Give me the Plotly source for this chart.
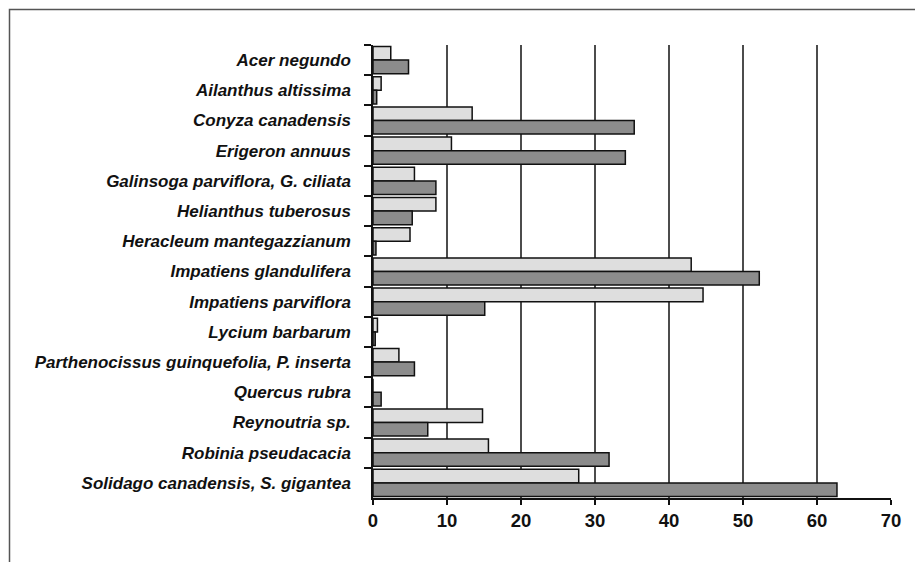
import plotly.graph_objects as go

species = [
    "Acer negundo",
    "Ailanthus altissima",
    "Conyza canadensis",
    "Erigeron annuus",
    "Galinsoga parviflora, G. ciliata",
    "Helianthus tuberosus",
    "Heracleum mantegazzianum",
    "Impatiens glandulifera",
    "Impatiens parviflora",
    "Lycium barbarum",
    "Parthenocissus guinquefolia, P. inserta",
    "Quercus rubra",
    "Reynoutria sp.",
    "Robinia pseudacacia",
    "Solidago canadensis, S. gigantea",
]
light_values = [2.4, 1.1, 13.4, 10.6, 5.6, 8.5, 5.0, 43.0, 44.6, 0.6, 3.5, 0.0, 14.8, 15.6, 27.8]
dark_values = [4.8, 0.5, 35.3, 34.1, 8.5, 5.3, 0.4, 52.2, 15.1, 0.3, 5.6, 1.1, 7.4, 31.9, 62.7]
x_ticks = [0, 10, 20, 30, 40, 50, 60, 70]
grid_values = [10, 20, 30, 40, 50, 60]

OFF = 8  # default page body margin
W, H = 923, 562
L, R, T, B = 373 - OFF, 32 + OFF, 45 - OFF, 64 + OFF
pw = W - L - R
ph = H - T - B

fig = go.Figure()
fig.add_trace(go.Bar(
    y=species, x=light_values, orientation="h", name="light",
    marker=dict(color="#dedede", line=dict(color="#111111", width=1.5)),
))
fig.add_trace(go.Bar(
    y=species, x=dark_values, orientation="h", name="dark",
    marker=dict(color="#8c8c8c", line=dict(color="#111111", width=1.5)),
))

for g in grid_values:
    fig.add_shape(type="line", xref="x", yref="paper", x0=g, x1=g, y0=0, y1=1,
                  line=dict(color="#111111", width=1.5), layer="below")

# outer frame (page pixel positions converted to paper units)
def px_to_paper_x(px):
    return (px - OFF - L) / pw

def py_to_paper_y(py):
    return (H - B - (py - OFF)) / ph

fig.add_shape(type="rect", xref="paper", yref="paper",
              x0=px_to_paper_x(9.5), x1=px_to_paper_x(919),
              y0=py_to_paper_y(600), y1=py_to_paper_y(9.5),
              line=dict(color="#555555", width=1.5), fillcolor="rgba(0,0,0,0)")

fig.update_layout(
    width=W, height=H,
    margin=dict(l=L, r=R, t=T, b=B, pad=0),
    paper_bgcolor="white", plot_bgcolor="white",
    barmode="group", bargap=0.1, bargroupgap=0,
    showlegend=False,
    font=dict(family="Liberation Sans, Arial, sans-serif", color="#111111"),
)
fig.update_xaxes(
    range=[0, 70], tickvals=x_ticks, ticktext=[str(v) for v in x_ticks],
    showgrid=False, zeroline=False,
    showline=True, linecolor="#111111", linewidth=1.5,
    ticks="outside", ticklen=5, tickwidth=1.5, tickcolor="#111111",
    tickfont=dict(size=18.5, family="Liberation Sans, Arial, sans-serif", weight="bold"),
)
fig.update_yaxes(
    type="category", autorange="reversed", tickson="boundaries",
    showgrid=False, zeroline=False,
    showline=True, linecolor="#111111", linewidth=1.5,
    ticks="outside", ticklen=7, tickwidth=1.5, tickcolor="#111111",
    ticklabelstandoff=17,
    tickfont=dict(size=17, family="Liberation Sans, Arial, sans-serif", weight="bold", style="italic"),
)

fig.write_html("out.html")
